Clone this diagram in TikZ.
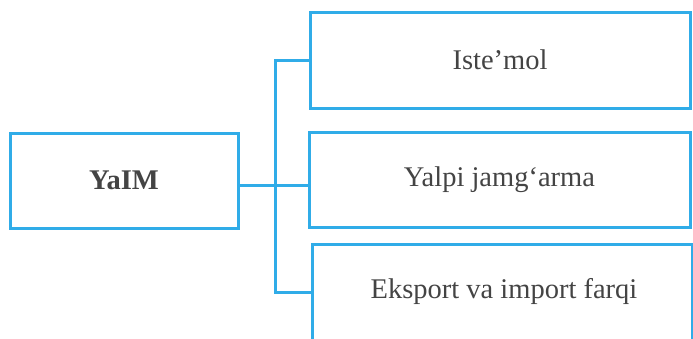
\documentclass[tikz,border=0pt]{standalone}
\usepackage{fontspec}
\setmainfont{Liberation Serif}
\definecolor{lineblue}{RGB}{48,172,232}
\definecolor{txtgray}{RGB}{68,68,68}
\begin{document}
\begin{tikzpicture}[x=1pt,y=-1pt,
  box/.style={draw=lineblue,line width=3pt,fill=white,inner sep=0pt,
    text=txtgray,font=\fontsize{28.5}{31}\selectfont},
  lbl/.style={text=txtgray,inner sep=0pt,font=\fontsize{28.5}{31}\selectfont},
  conn/.style={draw=lineblue,line width=3pt}]
\useasboundingbox (0,0) rectangle (693,338);
\clip (0,0) rectangle (693,338);
\fill[white] (0,0) rectangle (693,338);
\node[box,minimum width=228pt,minimum height=95pt] (yaim) at (124,180.5) {\bfseries YaIM};
\node[box,minimum width=380pt,minimum height=96pt] (box1) at (500,60) {Iste’mol};
\node[box,minimum width=381pt,minimum height=95pt] (box2) at (499.5,179.5) {Yalpi jamg‘arma};
\node[box,minimum width=380pt,minimum height=130pt,anchor=north] (box3) at (502,243) {};
\node[lbl] (box3text) at (504,291) {Eksport va import farqi};
\coordinate (jb) at (275,292);
\draw[conn] (box1.west) -| (jb) -- (jb -| box3.west);
\draw[conn] (yaim.east |- 0,185) -- (box2.west |- 0,185);
\end{tikzpicture}
\end{document}
